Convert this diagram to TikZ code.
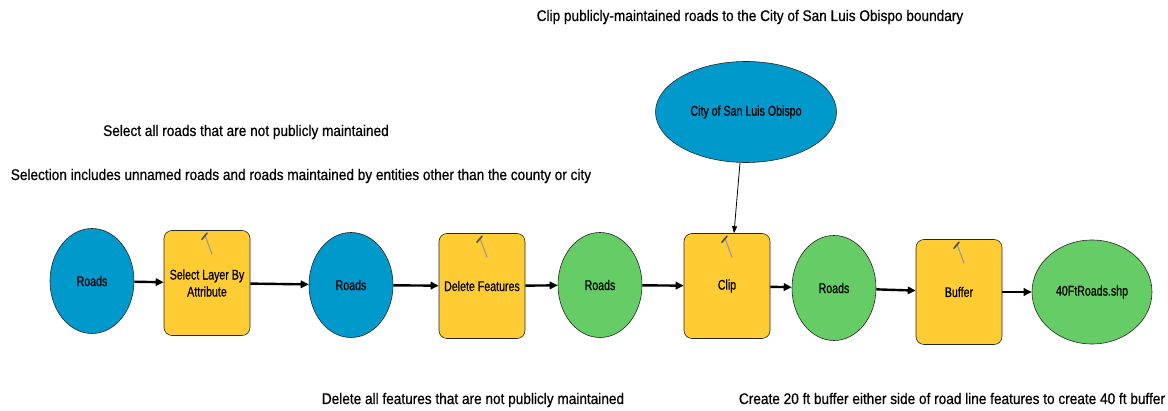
\documentclass[tikz,border=0pt]{standalone}
\usepackage{fontspec}
\setmainfont{Liberation Sans}
\newfontfamily\lblfont{Liberation Sans}[FakeStretch=0.885, FakeBold=0.6]
\newfontfamily\boxfont{Liberation Sans}[FakeStretch=0.76, FakeBold=0.6]
\usetikzlibrary{shapes.geometric, positioning, arrows.meta}

\definecolor{dsblue}{RGB}{0,153,204}
\definecolor{dsgreen}{RGB}{102,204,102}
\definecolor{toolyellow}{RGB}{255,204,51}

% kleines Werkzeug-Symbol oben im Kasten
\newcommand{\hammer}[1]{%
  \draw[gray!80, line width=1.1pt, line cap=round] ([shift={(-2,5)}]#1) -- ([shift={(5,24)}]#1);
  \draw[gray!60!black, line width=1.6pt, line cap=round] ([shift={(-5,9)}]#1) -- ([shift={(0,3)}]#1);}

\begin{document}
\begin{tikzpicture}[x=1pt, y=-1pt,
    data/.style={ellipse, draw=gray!30!black, line width=0.6pt, inner sep=0pt,
      minimum width=84pt, minimum height=105pt, font=\boxfont\fontsize{14}{16}\selectfont},
    tool/.style={rectangle, rounded corners=8pt, draw=gray!30!black, line width=0.6pt,
      fill=toolyellow, inner sep=0pt, minimum width=86pt, minimum height=105pt,
      align=center, font=\boxfont\fontsize{14}{17}\selectfont},
    lbl/.style={anchor=base, inner sep=0pt, font=\lblfont\fontsize{15.4}{18}\selectfont},
    flow/.style={-{Triangle[length=8pt, width=7.5pt]}, line width=2.4pt}]
    \useasboundingbox (0,0) rectangle (1168,411);

    % Daten und Werkzeuge
    \node[data, fill=dsblue] (roadsA) at (92,281) {Roads};
    \node[tool] (select) at (207,283) {Select Layer By\\Attribute};
    \node[data, fill=dsblue] (roadsB) at (351,285) {Roads};
    \node[tool] (delete) at (482,286) {Delete Features};
    \node[data, fill=dsgreen] (roadsC) at (600,285) {Roads};
    \node[tool] (clip) at (727,286) {Clip};
    \node[data, fill=dsgreen] (roadsD) at (834,288) {Roads};
    \node[tool] (buffer) at (959,292) {Buffer};
    \node[data, fill=dsgreen, minimum width=120pt, minimum height=104pt] (out) at (1092,292) {40FtRoads.shp};
    \node[data, fill=dsblue, minimum width=181pt, minimum height=101pt] (city) at (746,112) {City of San Luis Obispo};

    \hammer{select.north}
    \hammer{delete.north}
    \hammer{clip.north}
    \hammer{buffer.north}

    % Beschriftungen
    \node[lbl] (noteClip) at (750,21) {Clip publicly-maintained roads to the City of San Luis Obispo boundary};
    \node[lbl] (noteSel) at (246,136) {Select all roads that are not publicly maintained};
    \node[lbl] (noteInc) at (301,180) {Selection includes unnamed roads and roads maintained by entities other than the county or city};
    \node[lbl] (noteDel) at (473,404) {Delete all features that are not publicly maintained};
    \node[lbl] (noteBuf) at (952,404) {Create 20 ft buffer either side of road line features to create 40 ft buffer};

    % Verbindungen
    \path[flow]
    (roadsA) edge (select)
    (select) edge (roadsB)
    (roadsB) edge (delete)
    (delete) edge (roadsC)
    (roadsC) edge (clip)
    (clip) edge (roadsD)
    (roadsD) edge (buffer)
    (buffer) edge (out);
    \draw[-{Triangle[length=7pt, width=5pt]}, line width=0.8pt] ([xshift=-6pt]city.south) -- ([xshift=7pt]clip.north);
\end{tikzpicture}
\end{document}
